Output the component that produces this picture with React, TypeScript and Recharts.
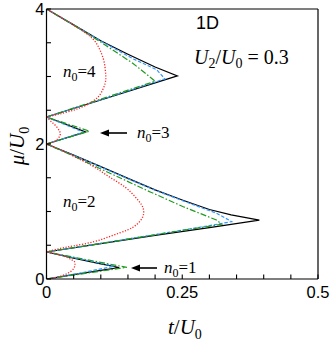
import React from 'react';
import { LineChart, Line, XAxis, YAxis } from 'recharts';

type Pt = [number, number];

const xTicks = [0, 0.05, 0.1, 0.15, 0.2, 0.25, 0.3, 0.35, 0.4, 0.45, 0.5];
const xLabels = [0, 0.25, 0.5];
const yTicks = [0, 0.5, 1, 1.5, 2, 2.5, 3, 3.5, 4];
const yLabels = [0, 2, 4];

// exact (black solid) lobe boundaries: [t/U0, mu/U0]
const exact1: Pt[] = [[0, 0], [0.05, 0.065], [0.1, 0.128], [0.134, 0.17], [0.1, 0.224], [0.05, 0.308], [0, 0.4]];
const exact2: Pt[] = [[0, 0.4], [0.1, 0.524], [0.2, 0.646], [0.3, 0.762], [0.392, 0.872], [0.34, 0.95], [0.3, 1.03], [0.25, 1.17], [0.2, 1.32], [0.15, 1.49], [0.1, 1.665], [0.05, 1.835], [0, 2]];
const exact3: Pt[] = [[0, 2], [0.072, 2.18], [0, 2.4]];
const exact4: Pt[] = [[0, 2.4], [0.1, 2.652], [0.2, 2.905], [0.241, 3.01], [0.2, 3.14], [0.15, 3.33], [0.1, 3.53], [0.05, 3.765], [0, 4]];

// blue dashed
const blue1: Pt[] = [[0, 0], [0.06, 0.085], [0.125, 0.19], [0.06, 0.3], [0, 0.4]];
const blue2: Pt[] = [[0, 0.4], [0.1, 0.528], [0.2, 0.658], [0.3, 0.79], [0.341, 0.85], [0.313, 0.975], [0.252, 1.156], [0.2, 1.315], [0.15, 1.485], [0.1, 1.66], [0.05, 1.833], [0, 2]];
const blue3: Pt[] = [[0, 2], [0.068, 2.175], [0, 2.4]];
const blue4: Pt[] = [[0, 2.4], [0.1, 2.655], [0.218, 2.965], [0.203, 3.1], [0.16, 3.26], [0.1, 3.525], [0.05, 3.765], [0, 4]];

// green dash-dot
const green1: Pt[] = [[0, 0], [0.148, 0.172], [0, 0.4]];
const green2: Pt[] = [[0, 0.4], [0.323, 0.812], [0.313, 0.874], [0.252, 1.07], [0.191, 1.29], [0.1, 1.63], [0.05, 1.82], [0, 2]];
const green3: Pt[] = [[0, 2], [0.079, 2.19], [0, 2.4]];
const green4: Pt[] = [[0, 2.4], [0.2, 2.93], [0.16, 3.19], [0.1, 3.51], [0.05, 3.76], [0, 4]];

// red dotted
const red1: Pt[] = [[0, 0], [0.02, 0.03], [0.038, 0.08], [0.05, 0.155], [0.0525, 0.23], [0.0475, 0.28], [0.026, 0.355], [0, 0.4]];
const red2: Pt[] = [[0, 0.4], [0.026, 0.455], [0.05, 0.49], [0.0875, 0.553], [0.12, 0.64], [0.149, 0.726], [0.165, 0.8], [0.176, 0.9], [0.179, 1.0], [0.175, 1.1], [0.163, 1.22], [0.145, 1.36], [0.118, 1.5], [0.09, 1.65], [0.06, 1.78], [0.03, 1.9], [0, 2]];
const red3: Pt[] = [[0, 2], [0.012, 2.03], [0.02, 2.07], [0.025, 2.13], [0.024, 2.19], [0.017, 2.27], [0.009, 2.33], [0, 2.4]];
const red4: Pt[] = [[0, 2.4], [0.032, 2.46], [0.06, 2.53], [0.085, 2.63], [0.1, 2.75], [0.108, 2.9], [0.109, 3.03], [0.106, 3.22], [0.098, 3.4], [0.085, 3.56], [0.06, 3.71], [0.03, 3.86], [0, 4]];

const toRows = (pts: Pt[]) => pts.map(([t, mu]) => ({ t, mu }));

const SERIF = "'Liberation Serif', 'Times New Roman', serif";
const SANS = "'Liberation Sans', Arial, sans-serif";

const isMajor = (v: number, list: number[]) => list.some((l) => Math.abs(l - v) < 1e-9);

const BottomTick = (props: any) => {
  const { x, y, payload } = props;
  const v = payload.value;
  return (
    <g>
      <line x1={x} y1={y} x2={x} y2={y - 4.5} stroke="#000" strokeWidth={1.1} />
      {isMajor(v, xLabels) && (
        <text x={x} y={y + 18.5} textAnchor="middle" fontFamily={SANS} fontSize={16.5} fill="#000">
          {String(v)}
        </text>
      )}
    </g>
  );
};
const TopTick = (props: any) => {
  const { x, y } = props;
  return <line x1={x} y1={y} x2={x} y2={y + 4.5} stroke="#000" strokeWidth={1.1} />;
};
const LeftTick = (props: any) => {
  const { x, y, payload } = props;
  const v = payload.value;
  return (
    <g>
      <line x1={x} y1={y} x2={x + 4.5} y2={y} stroke="#000" strokeWidth={1.1} />
      {isMajor(v, yLabels) && (
        <text x={x - 2} y={y + 5.5} textAnchor="end" fontFamily={SANS} fontSize={16.5} fill="#000">
          {String(v)}
        </text>
      )}
    </g>
  );
};
const RightTick = (props: any) => {
  const { x, y } = props;
  return <line x1={x} y1={y} x2={x - 4.5} y2={y} stroke="#000" strokeWidth={1.1} />;
};

const series: { data: Pt[]; color: string; dash?: string; type: any; w: number }[] = [
  { data: exact1, color: '#000', type: 'linear', w: 1.2 },
  { data: exact2, color: '#000', type: 'linear', w: 1.2 },
  { data: exact3, color: '#000', type: 'linear', w: 1.2 },
  { data: exact4, color: '#000', type: 'linear', w: 1.2 },
  { data: blue1, color: '#3399ff', dash: '3.5 1.8', type: 'linear', w: 1.2 },
  { data: blue2, color: '#3399ff', dash: '3.5 1.8', type: 'linear', w: 1.2 },
  { data: blue3, color: '#3399ff', dash: '3.5 1.8', type: 'linear', w: 1.2 },
  { data: blue4, color: '#3399ff', dash: '3.5 1.8', type: 'linear', w: 1.2 },
  { data: green1, color: '#1f9a1f', dash: '6 2 1.5 2', type: 'linear', w: 1.2 },
  { data: green2, color: '#1f9a1f', dash: '6 2 1.5 2', type: 'linear', w: 1.2 },
  { data: green3, color: '#1f9a1f', dash: '6 2 1.5 2', type: 'linear', w: 1.2 },
  { data: green4, color: '#1f9a1f', dash: '6 2 1.5 2', type: 'linear', w: 1.2 },
  { data: red1, color: '#ff2020', dash: '1.2 1.6', type: 'natural', w: 1.3 },
  { data: red2, color: '#ff2020', dash: '1.2 1.6', type: 'natural', w: 1.3 },
  { data: red3, color: '#ff2020', dash: '1.2 1.6', type: 'natural', w: 1.3 },
  { data: red4, color: '#ff2020', dash: '1.2 1.6', type: 'natural', w: 1.3 },
];

const NLabel = ({ x, y, n }: { x: number; y: number; n: string }) => (
  <text x={x} y={y} fontFamily={SERIF} fontSize={17} fill="#000">
    <tspan fontStyle="italic">n</tspan>
    <tspan fontSize={12} dy={4}>0</tspan>
    <tspan dy={-4}>={n}</tspan>
  </text>
);

const Arrow = ({ x1, x2, y }: { x1: number; x2: number; y: number }) => (
  <g>
    <line x1={x1 + 6} y1={y} x2={x2} y2={y} stroke="#000" strokeWidth={1.6} />
    <polygon points={`${x1},${y} ${x1 + 9},${y - 3.5} ${x1 + 9},${y + 3.5}`} fill="#000" />
  </g>
);

export default function App() {
  return (
    <div style={{ position: 'absolute', left: 0, top: 0, width: 332, height: 346, background: '#fff' }}>
      <LineChart width={332} height={346} margin={{ top: 8, right: 13, bottom: 66, left: 0 }}>
        <XAxis
          xAxisId={0}
          type="number"
          dataKey="t"
          domain={[0, 0.5]}
          ticks={xTicks}
          interval={0}
          height={1}
          tickSize={0}
          tickMargin={0}
          tickLine={false}
          axisLine={{ stroke: '#000', strokeWidth: 1.2 }}
          tick={<BottomTick />}
          allowDataOverflow
        />
        <XAxis
          xAxisId="top"
          orientation="top"
          type="number"
          domain={[0, 0.5]}
          ticks={xTicks}
          interval={0}
          height={1}
          tickSize={0}
          tickMargin={0}
          tickLine={false}
          axisLine={{ stroke: '#000', strokeWidth: 1.2 }}
          tick={<TopTick />}
        />
        <YAxis
          yAxisId={0}
          type="number"
          domain={[0, 4]}
          ticks={yTicks}
          interval={0}
          width={46.5}
          tickSize={0}
          tickMargin={0}
          tickLine={false}
          axisLine={{ stroke: '#000', strokeWidth: 1.2 }}
          tick={<LeftTick />}
          allowDataOverflow
        />
        <YAxis
          yAxisId="right"
          orientation="right"
          type="number"
          domain={[0, 4]}
          ticks={yTicks}
          interval={0}
          width={1}
          tickSize={0}
          tickMargin={0}
          tickLine={false}
          axisLine={{ stroke: '#000', strokeWidth: 1.2 }}
          tick={<RightTick />}
        />
        {series.map((s, i) => (
          <Line
            key={i}
            data={toRows(s.data)}
            dataKey="mu"
            type={s.type}
            stroke={s.color}
            strokeWidth={s.w}
            strokeDasharray={s.dash}
            dot={false}
            activeDot={false}
            isAnimationActive={false}
          />
        ))}
        <NLabel x={63} y={77} n="4" />
        <NLabel x={63} y={207} n="2" />
        <NLabel x={137} y={138} n="3" />
        <NLabel x={164} y={273} n="1" />
        <Arrow x1={100} x2={127} y={133} />
        <Arrow x1={131} x2={157} y={268} />
        <text x={196} y={28.5} fontFamily={SANS} fontSize={18} fill="#000">1D</text>
        <text x={194} y={64} fontFamily={SERIF} fontSize={20} fill="#000">
          <tspan fontStyle="italic">U</tspan>
          <tspan fontSize={14} dy={4}>2</tspan>
          <tspan dy={-4}>/</tspan>
          <tspan fontStyle="italic">U</tspan>
          <tspan fontSize={14} dy={4}>0</tspan>
          <tspan dy={-4}> = 0.3</tspan>
        </text>
        <text x={168} y={334} fontFamily={SERIF} fontSize={21} fill="#000">
          <tspan fontStyle="italic">t</tspan>
          <tspan>/</tspan>
          <tspan fontStyle="italic">U</tspan>
          <tspan fontSize={14} dy={5}>0</tspan>
        </text>
        <text transform="translate(24,146) rotate(-90)" textAnchor="middle" fontFamily={SERIF} fontSize={21} fill="#000">
          <tspan fontStyle="italic">μ</tspan>
          <tspan>/</tspan>
          <tspan fontStyle="italic">U</tspan>
          <tspan fontSize={14} dy={5}>0</tspan>
        </text>
      </LineChart>
    </div>
  );
}
